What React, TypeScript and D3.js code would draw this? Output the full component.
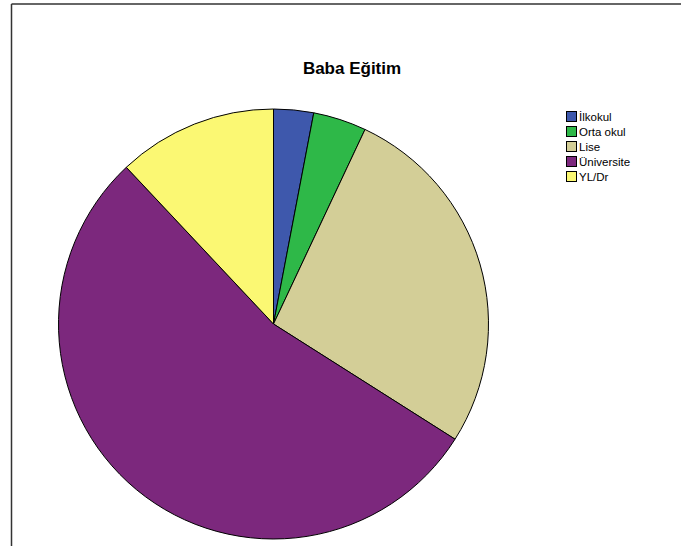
import React from "react";
import * as d3 from "d3";

const categories = ["İlkokul", "Orta okul", "Lise", "Üniversite", "YL/Dr"];
const values = [3, 4, 27, 54, 12];
const colors = ["#3E58AC", "#2EB848", "#D3CE97", "#7C287D", "#FBF873"];
const title = "Baba Eğitim";

export default function App() {
  const W = 681, H = 546;
  const cx = 273.5, cy = 324, r = 215;
  const data = categories.map((c, i) => ({ c, v: values[i], col: colors[i] }));
  const pie = d3.pie<any>().value((d) => d.v).sort(null);
  const arc = d3.arc<any>().innerRadius(0).outerRadius(r);
  const arcs = pie(data);
  return (
    <svg width={W} height={H} style={{ position: "fixed", left: 0, top: 0, background: "#fff" }}
      fontFamily="'Liberation Sans', Arial, sans-serif">
      <rect x={0} y={0} width={W} height={H} fill="#fff" />
      <line x1={11.5} y1={4} x2={W} y2={4} stroke="#333" strokeWidth={1.5} />
      <line x1={11.5} y1={4} x2={11.5} y2={H} stroke="#333" strokeWidth={1.5} />
      <text x={352} y={74} textAnchor="middle" fontSize={17} fontWeight="bold" fill="#000">{title}</text>
      <g transform={`translate(${cx},${cy})`}>
        {arcs.map((a, i) => (
          <path key={i} d={arc(a) as string} fill={a.data.col} stroke="#000" strokeWidth={1} strokeLinejoin="round" />
        ))}
      </g>
      <g>
        {data.map((d, i) => (
          <g key={i} transform={`translate(566,${111 + i * 15})`}>
            <rect x={0.5} y={0.5} width={10} height={10} fill={d.col} stroke="#000" strokeWidth={1} />
            <text x={13} y={9.5} fontSize={11.5} fill="#000">{d.c}</text>
          </g>
        ))}
      </g>
    </svg>
  );
}
